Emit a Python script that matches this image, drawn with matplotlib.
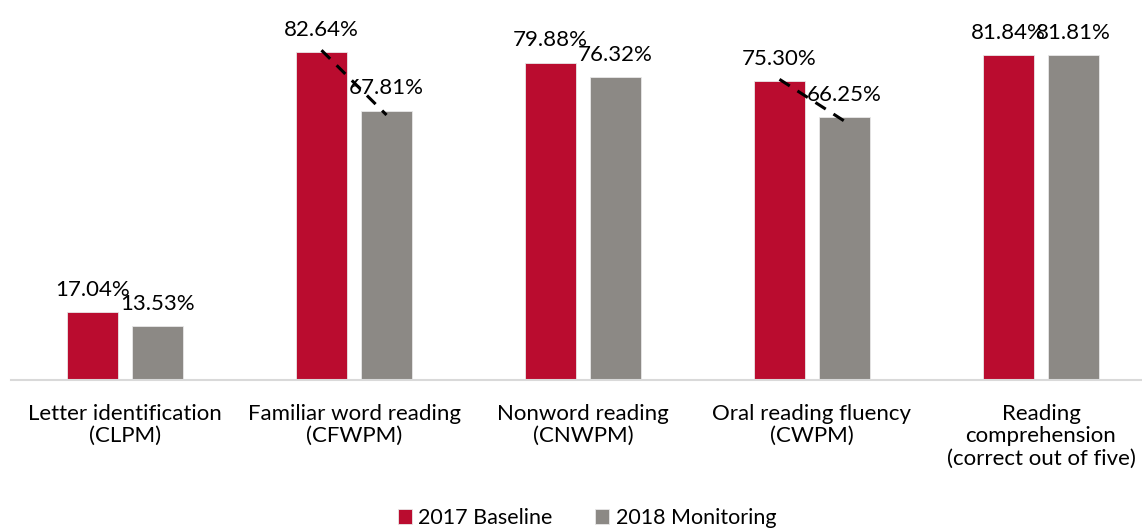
import matplotlib.pyplot as plt
import numpy as np

plt.rcParams['font.family'] = ['Lato', 'DejaVu Sans']

categories = ['Letter identification\n(CLPM)',
              'Familiar word reading\n(CFWPM)',
              'Nonword reading\n(CNWPM)',
              'Oral reading fluency\n(CWPM)',
              'Reading\ncomprehension\n(correct out of five)']
baseline_2017 = [17.04, 82.64, 79.88, 75.30, 81.84]
monitoring_2018 = [13.53, 67.81, 76.32, 66.25, 81.81]
# groups with a dashed drop line between the two years
dropped = [1, 3]

red = '#BA0C2F'
grey = '#8C8985'

fig = plt.figure(figsize=(11.42, 5.29), dpi=100)
ax = fig.add_axes([10.5 / 1142, 149 / 529, 1145 / 1142, 380 / 529])

x = np.arange(len(categories))
w = 0.223
off = 0.142

ax.bar(x - off, baseline_2017, w, color=red, edgecolor='#e8e8e8', linewidth=0.6, label='2017 Baseline')
ax.bar(x + off, monitoring_2018, w, color=grey, edgecolor='#e8e8e8', linewidth=0.6, label='2018 Monitoring')

for i in range(len(categories)):
    ax.text(x[i] - off, baseline_2017[i] + 3.2, '%.2f%%' % baseline_2017[i],
            ha='center', va='bottom', fontsize=16)
    ax.text(x[i] + off, monitoring_2018[i] + 3.2, '%.2f%%' % monitoring_2018[i],
            ha='center', va='bottom', fontsize=16)

for i in dropped:
    ax.plot([x[i] - off, x[i] + off], [baseline_2017[i] + 0.5, monitoring_2018[i] - 1.0],
            color='black', linewidth=2.2, dashes=(4, 3))

ax.set_xlim(-0.5, 4.5)
ax.set_ylim(0, 95.8)
ax.set_xticks(x)
ax.set_xticklabels(categories, fontsize=16, linespacing=1.15)
ax.tick_params(axis='x', length=0, pad=17)
ax.set_yticks([])
for s in ['top', 'right', 'left']:
    ax.spines[s].set_visible(False)
ax.spines['bottom'].set_color('#d9d9d9')
ax.spines['bottom'].set_linewidth(1.5)

fig.legend(loc='lower center', bbox_to_anchor=(0.514, -0.035), ncol=2, frameon=False,
           fontsize=15.5, handlelength=0.65, handleheight=0.65, handletextpad=0.3,
           columnspacing=2.0)

plt.savefig('out.png', dpi=100)
